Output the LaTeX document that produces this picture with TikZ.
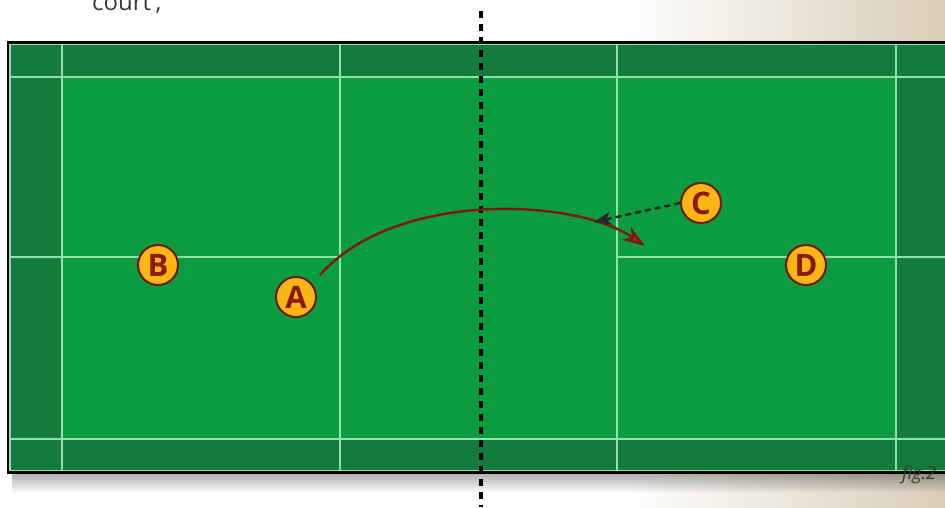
\documentclass[tikz,border=0pt]{standalone}
\usepackage{fontspec}
\setmainfont{Open Sans}
\usetikzlibrary{arrows.meta}
\definecolor{brightg}{HTML}{0B9C3F}
\definecolor{darkg}{HTML}{137B3B}
\definecolor{courtln}{HTML}{93DEA9}
\definecolor{beige}{HTML}{D9CDB7}
\definecolor{disc}{HTML}{FDB515}
\definecolor{discedge}{HTML}{6E1A0E}
\definecolor{disctext}{HTML}{8A1B10}
\definecolor{shotcol}{HTML}{7A1A12}
\definecolor{shottip}{HTML}{B3221A}
\definecolor{txtgray}{HTML}{3A3A3A}
\tikzset{
  player/.style={circle, fill=disc, draw=discedge, line width=2pt, minimum size=40pt, inner sep=0pt,
    text=disctext, font=\fontsize{31}{31}\selectfont\bfseries},
  courtline/.style={draw=courtln, line width=1.4pt},
  netline/.style={draw=black, line width=3.2pt, dash pattern=on 7pt off 6pt},
  shot/.style={draw=shotcol, line width=2.4pt, -{Stealth[length=22pt,width=15pt,inset=6pt,fill=shottip]}},
  move/.style={draw=black!85, line width=2.4pt, dash pattern=on 6pt off 4pt, -{Stealth[length=17pt,width=13pt,inset=4pt]}}
}
\begin{document}
\begin{tikzpicture}[x=1pt,y=-1pt]
\useasboundingbox (0,0) rectangle (945,507);
\begin{scope}
\clip (0,0) rectangle (945,507);
% background
\fill[white] (0,0) rectangle (945,507);
\shade[left color=white, right color=beige, shading angle=90] (620,0) rectangle (945,507);
% shadow under court
\foreach \i in {1,...,9}{
  \fill[black, opacity=0.035] (12,470) rectangle (960,474+2*\i);
}
% court
\fill[darkg] (7,41) rectangle (960,474);
\fill[brightg] (62,77) rectangle (896,439);
\draw[black, line width=3pt] (8.5,42.5) rectangle (960,472.5);
% court lines
\draw[courtline] (10,44.5) rectangle (962,470.5);
\foreach \x in {62,340,617,896}{
  \draw[courtline] (\x,44.5) -- (\x,470.5);
}
\draw[courtline] (10,77) -- (962,77);
\draw[courtline] (10,439) -- (962,439);
\draw[courtline] (10,257) -- (340,257);
\draw[courtline] (617,257) -- (962,257);
\end{scope}
% net
\coordinate (nettop) at (481,11);
\coordinate (netbot) at (481,507);
\draw[netline] (nettop) -- (netbot);
% players
\node[player] (A) at (296,297) {A};
\node[player] (B) at (158,265) {B};
\node[player] (C) at (701,203) {C};
\node[player] (D) at (806,265) {D};
% shot
\coordinate (arcstart) at (320,275);
\coordinate (arcend) at (645,246);
\draw[shot] (arcstart) .. controls (395,190) and (575,198) .. (arcend);
% movement of C
\coordinate (ctip) at (594,222);
\draw[move] (C.west) -- (ctip);
% texts
\node[anchor=base west, inner sep=0pt, text=txtgray, font=\fontsize{24}{24}\selectfont] (caption) at (92,10) {court’;};
\node[anchor=base west, inner sep=0pt, text=txtgray, font=\fontsize{18}{18}\selectfont\itshape] (fig) at (902,479) {fig.2};
\end{tikzpicture}
\end{document}
